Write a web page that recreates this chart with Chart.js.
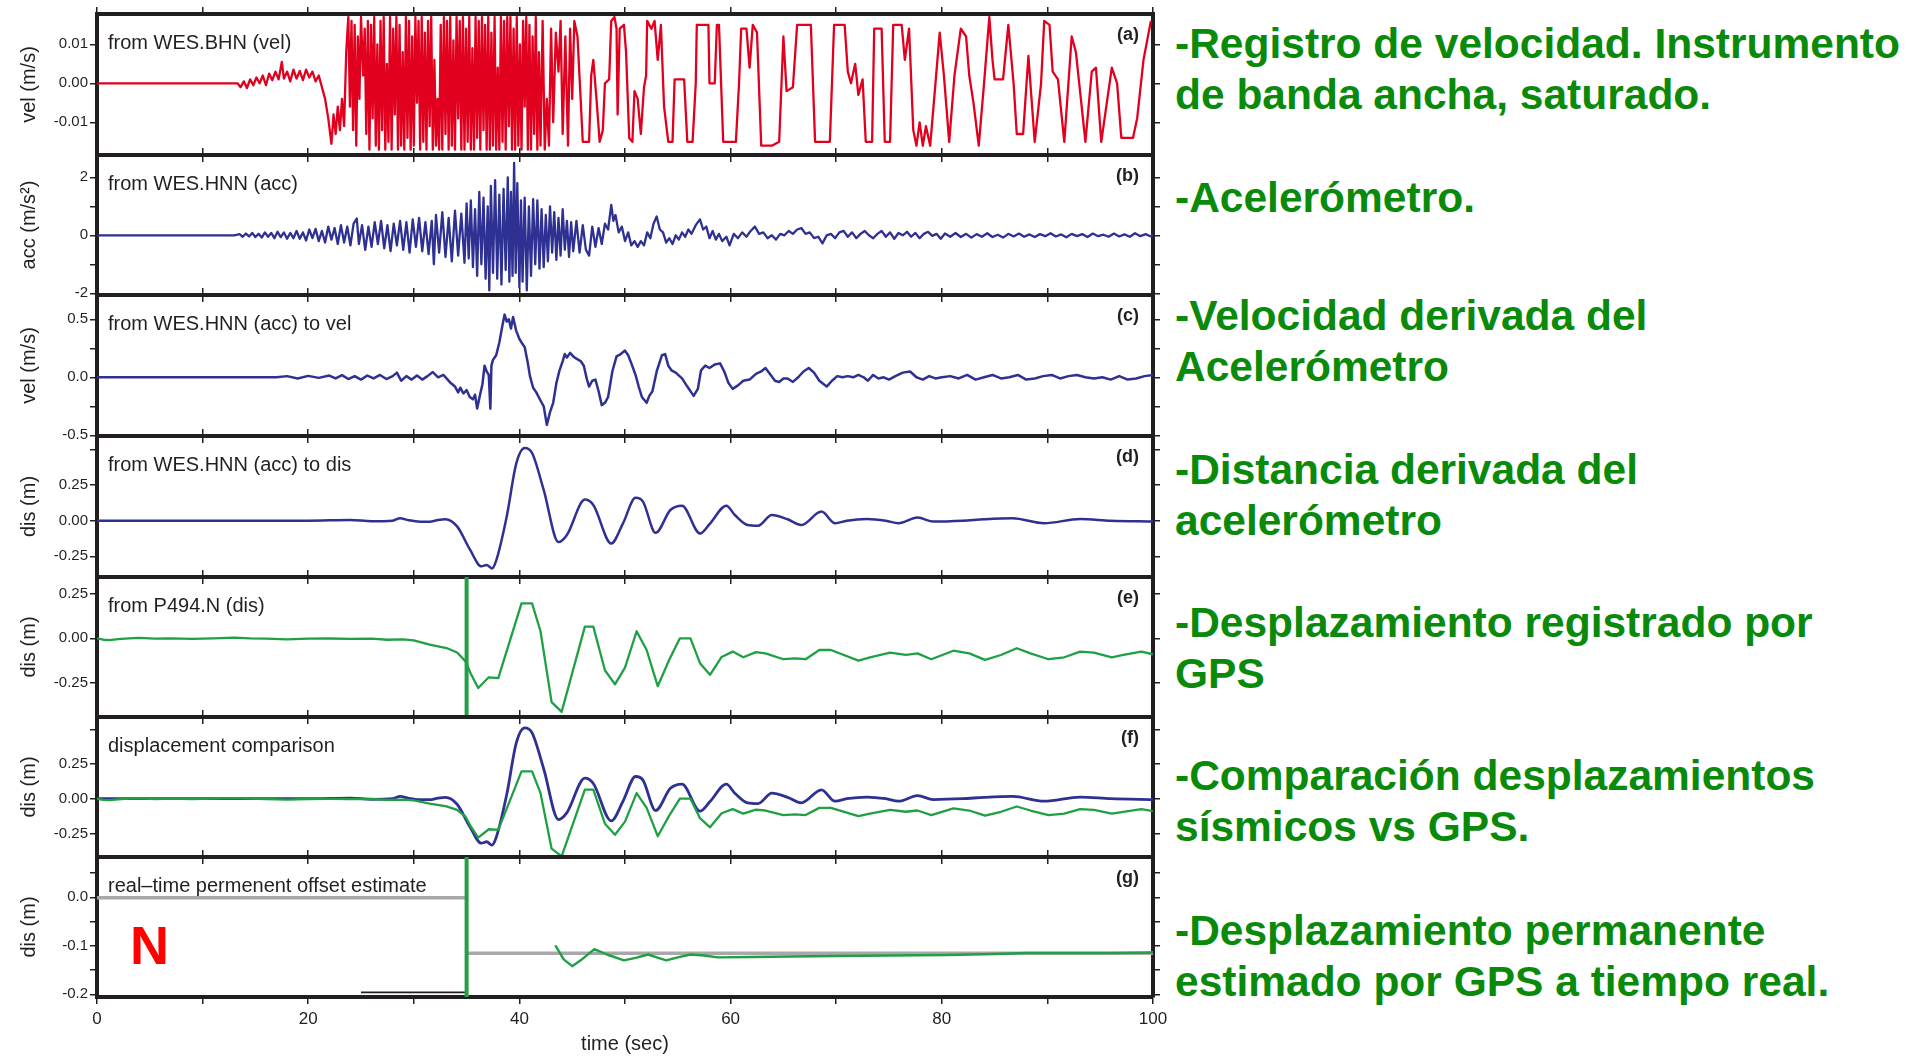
<!DOCTYPE html>
<html>
<head>
<meta charset="utf-8">
<title>Registro sísmico y GPS</title>
<script src="https://cdn.jsdelivr.net/npm/chart.js@4/dist/chart.umd.min.js"></script>
<style>
	body { margin: 0; background: #fff; width: 1913px; height: 1059px; overflow: hidden; position: relative; }
	canvas.panel { position: absolute; left: 0; }
	.note { position: absolute; left: 1175px; font: bold 42.5px/51px "Liberation Sans", Arial, sans-serif; color: #0a8a0a; white-space: nowrap; }
	#compN { position: absolute; left: 130px; top: 918px; font: bold 54px/54px "Liberation Sans", Arial, sans-serif; color: #ff0000; }
</style>
</head>
<body>
<div class="note" style="top:18px">-Registro de velocidad. Instrumento<br>de banda ancha, saturado.</div>
<div class="note" style="top:172px">-Acelerómetro.</div>
<div class="note" style="top:290px">-Velocidad derivada del<br>Acelerómetro</div>
<div class="note" style="top:444px">-Distancia derivada del<br>acelerómetro</div>
<div class="note" style="top:597px">-Desplazamiento registrado por<br>GPS</div>
<div class="note" style="top:750px">-Comparación desplazamientos<br>sísmicos vs GPS.</div>
<div class="note" style="top:905px">-Desplazamiento permanente<br>estimado por GPS a tiempo real.</div>
<div id="compN">N</div>
<script>
// time axis (seconds)
const timeTicks = [0, 10, 20, 30, 40, 50, 60, 70, 80, 90, 100];
const timeTickText = ['0', '', '20', '', '40', '', '60', '', '80', '', '100'];

// y ticks per panel, blank text = minor tick
const velBhnTicks = [-0.01, 0, 0.01];
const velBhnTickText = ['-0.01', '0.00', '0.01'];
const accTicks = [-2, -1, 0, 1, 2];
const accTickText = ['-2', '', '0', '', '2'];
const velHnnTicks = [-0.5, -0.25, 0, 0.25, 0.5];
const velHnnTickText = ['-0.5', '', '0.0', '', '0.5'];
const disTicks = [-0.25, 0, 0.25, 0.5];
const disTickText = ['-0.25', '0.00', '0.25', ''];
const offTicks = [-0.2, -0.15, -0.1, -0.05, 0, 0.05];
const offTickText = ['-0.2', '', '-0.1', '', '0.0', ''];

// (a) WES.BHN broadband velocity, clipped around +-0.017 m/s
const velBHN = [
	[0,0],[13.3,0],[13.6,-0.001],[13.9,0.0005],[14.2,-0.0012],[14.5,0.001],[14.8,-0.0005],[15.1,0.0015],[15.4,0],[15.7,0.002],
	[16,-0.0005],[16.3,0.0025],[16.6,0.0008],[16.9,0.003],[17.2,0.001],[17.5,0.0055],[17.7,0.0012],[18,0.003],[18.3,0.0005],[18.6,0.0035],
	[18.9,0.0012],[19.2,0.0032],[19.5,0.0008],[19.8,0.0035],[20.1,0.0015],[20.4,0.003],[20.7,0.0005],[21,0.002],[21.3,-0.001],[21.6,-0.004],
	[21.9,-0.009],[22.2,-0.0155],[22.4,-0.008],[22.6,-0.013],[22.8,-0.006],[23,-0.012],[23.2,-0.004],[23.4,-0.011],[23.6,0.008],
	[23.8,0.017],[23.95,-0.006],[24.1,0.016],[24.25,-0.012],[24.4,0.015],[24.55,-0.016],[24.7,0.012],[24.85,-0.004],[25,0.017],[25.2,0.002],
	[25.35,0.014],[25.5,-0.013],[25.65,0.016],[25.8,-0.017],[25.95,0.015],[26.1,-0.009],[26.25,0.017],[26.4,-0.016],[26.55,0.01],[26.7,-0.017],
	[26.85,0.016],[27,-0.012],[27.15,0.017],[27.3,-0.017],[27.45,0.005],[27.6,-0.015],[27.75,0.017],[27.9,-0.017],[28.05,0.014],[28.2,-0.008],
	[28.35,0.017],[28.5,-0.017],[28.65,0.015],[28.8,-0.016],[28.95,0.008],[29.1,-0.017],[29.25,0.017],[29.4,-0.014],[29.55,0.016],[29.7,-0.017],
	[29.85,0.012],[30,-0.016],[30.15,0.017],[30.3,-0.005],[30.45,0.016],[30.6,-0.017],[30.75,0.017],[30.9,-0.015],[31.05,0.013],[31.2,-0.017],
	[31.35,0.016],[31.5,-0.011],[31.65,0.017],[31.8,-0.017],[31.95,0.006],[32.1,-0.016],[32.25,-0.004],[32.4,-0.017],[32.55,0.015],[32.7,-0.017],
	[32.85,0.017],[33,-0.013],[33.15,0.016],[33.3,-0.017],[33.45,0.017],[33.6,-0.016],[33.75,0.011],[33.9,-0.017],[34.05,0.017],[34.2,-0.009],
	[34.35,0.016],[34.5,-0.017],[34.65,0.017],[34.8,-0.017],[34.95,0.014],[35.1,-0.015],[35.25,0.017],[35.4,-0.017],[35.55,0.009],[35.7,-0.017],
	[35.85,0.017],[36,-0.014],[36.15,0.016],[36.3,-0.017],[36.45,0.017],[36.6,-0.012],[36.75,0.015],[36.9,-0.017],[37.05,0.017],[37.2,-0.017],
	[37.35,0.013],[37.5,-0.016],[37.65,0.017],[37.8,-0.017],[37.95,0.004],[38.1,-0.017],[38.25,0.017],[38.4,-0.015],[38.55,0.016],[38.7,-0.017],
	[38.85,0.017],[39,-0.011],[39.15,0.017],[39.3,-0.017],[39.45,0.014],[39.6,-0.017],[39.75,0.017],[39.9,-0.016],[40.05,0.01],[40.2,-0.017],
	[40.35,0.016],[40.5,-0.006],[40.65,0.017],[40.8,-0.017],[40.95,0.015],[41.1,-0.017],[41.25,0.012],[41.4,-0.013],[41.55,0.017],[41.7,-0.017],
	[41.85,0.008],[42,-0.016],[42.2,0.016],[42.4,-0.017],[42.6,-0.004],[42.8,-0.016],[43,0.014],[43.2,-0.01],[43.45,0.013],[43.7,0.003],
	[43.9,0.016],[44.1,-0.013],[44.35,0.012],[44.6,-0.016],[44.8,0.014],[45,-0.004],[45.2,0.016],
	[45.5,0.012],[45.8,-0.004],[46,-0.015],[46.6,-0.015],[46.8,0.002],[47,0.006],[47.3,-0.004],[47.6,-0.015],[47.9,-0.012],[48.1,0],
	[48.5,0.001],[48.7,0.016],[49,0.017],[49.2,0.014],[49.3,-0.008],[49.5,0.014],[49.9,0.015],[50.1,0.008],[50.4,-0.014],[50.7,-0.015],
	[50.9,-0.002],[51.2,-0.004],[51.5,-0.013],[51.8,-0.001],[52,0.002],[52.1,0.016],[52.5,0.014],[52.8,0.016],[53.1,0.006],[53.4,0.015],
	[53.7,-0.006],[54.1,-0.015],[54.5,-0.015],[54.7,0.001],[55.6,0.001],[55.9,-0.015],[56.4,-0.015],[56.7,0],[56.8,0.015],[57.9,0.015],
	[58,0],[58.5,0],[58.7,0.015],[58.9,0.015],[59.3,-0.015],[60.5,-0.015],[60.8,0],[61,0.014],[61.5,0.014],[61.8,0.004],
	[62.1,0.015],[62.5,0.013],[62.9,-0.016],[63.9,-0.016],[64.6,-0.015],[65,0.012],[65.3,-0.002],[65.9,-0.001],[66.3,0.015],[67.6,0.015],
	[68,-0.015],[69.4,-0.015],[69.8,0.015],[70.8,0.015],[71.1,0.003],[71.4,0],[71.8,0.005],[72.1,-0.003],[72.5,0.001],[72.8,-0.015],
	[73.4,-0.015],[73.6,0.014],[74.3,0.014],[74.6,-0.015],[75.1,-0.015],[75.4,0.015],[76.2,0.015],[76.5,0.006],[76.9,0.014],[77.3,-0.012],
	[77.6,-0.016],[77.9,-0.01],[78.2,-0.016],[78.5,-0.011],[78.9,-0.016],[79.4,0],[79.8,0.013],[80.2,0.002],[80.7,-0.015],[81.2,0.002],
	[81.8,0.014],[82.3,0.012],[82.6,0.002],[83,-0.005],[83.5,-0.016],[84,0],[84.5,0.017],[84.8,0.006],[85,0.001],[85.8,0.001],
	[86.3,0.015],[86.8,0],[87.1,-0.013],[87.7,-0.013],[88.2,0.007],[88.8,-0.015],[89.4,0],[89.7,0.016],[90.2,0.015],[90.5,0.003],
	[91,0.001],[91.6,-0.015],[92.3,0.012],[92.7,0.008],[93.6,-0.015],[94.2,0.003],[94.6,0.004],[95.1,-0.015],[96.1,0.004],[96.6,0],
	[97,-0.014],[98.1,-0.014],[98.5,-0.009],[99.1,0.006],[99.8,0.016]
];

// (b) WES.HNN strong motion acceleration (m/s^2)
const accHNN = [
	[0,0],[13,0],[13.5,0.04],[13.8,-0.05],[14.1,0.06],[14.4,-0.04],[14.7,0.08],[15,-0.06],[15.3,0.05],[15.6,-0.08],
	[15.9,0.1],[16.2,-0.05],[16.5,0.08],[16.8,-0.1],[17.1,0.12],[17.4,-0.06],[17.7,0.1],[18,-0.12],[18.3,0.08],[18.6,-0.1],
	[18.9,0.15],[19.2,-0.12],[19.5,0.1],[19.8,-0.18],[20.1,0.2],[20.4,-0.1],[20.7,0.22],[21,-0.2],[21.3,0.15],[21.6,-0.25],
	[21.9,0.3],[22.2,-0.15],[22.5,0.25],[22.8,-0.3],[23.1,0.35],[23.4,-0.25],[23.7,0.3],[24,-0.35],[24.3,0.4],[24.6,0.58],
	[24.8,-0.3],[25.1,0.35],[25.4,-0.5],[25.7,0.3],[26,-0.4],[26.3,0.45],[26.6,-0.3],[26.9,0.5],[27.2,-0.45],[27.5,0.35],
	[27.8,-0.55],[28.1,0.4],[28.4,-0.35],[28.7,0.5],[29,-0.5],[29.3,0.45],[29.6,-0.6],[29.9,0.55],[30.2,-0.4],[30.5,0.6],
	[30.8,-0.55],[31.1,0.45],[31.4,-0.65],[31.7,0.5],[31.9,-1],[32.1,0.7],[32.4,-0.6],[32.7,0.8],[33,-0.75],[33.3,0.6],
	[33.6,-0.9],[33.9,0.85],[34.2,-0.7],[34.5,0.75],[34.8,-0.95],[35,1.1],[35.2,-0.8],[35.4,1.2],[35.6,-1.1],[35.8,0.9],
	[36,-1.4],[36.2,1.5],[36.4,-1],[36.6,1.3],[36.8,-1.5],[37,1],[37.15,-1.9],[37.3,1.7],[37.5,-1.3],[37.7,1.9],
	[37.9,-1.5],[38.1,1.4],[38.3,-1.7],[38.5,1.6],[38.7,-1.2],[38.9,2],[39.05,-1.6],[39.2,1.5],[39.35,-1.4],[39.5,2.5],
	[39.65,-1.3],[39.8,1.8],[40,-1.8],[40.15,1.2],[40.3,-1.6],[40.5,1.3],[40.7,-1.9],[40.9,1],[41.1,-1.4],[41.3,1.25],
	[41.5,-1],[41.7,1.2],[41.9,-1.15],[42.1,0.9],[42.3,-1.1],[42.5,0.7],[42.7,-0.9],[42.9,1],[43.1,-0.6],[43.3,0.8],
	[43.5,-0.85],[43.7,0.6],[43.9,-0.7],[44.1,0.9],[44.3,-0.5],[44.5,0.5],[44.7,-0.75],[44.9,0.45],[45.1,-0.55],[45.4,0.5],
	[45.7,-0.6],[46,0.35],[46.3,-0.5],[46.6,-0.7],[46.9,0.3],[47.2,-0.4],[47.5,0.25],[47.8,-0.3],[48.1,0.4],[48.4,0.2],
	[48.7,1.05],[48.9,0.5],[49.1,0.7],[49.4,0.1],[49.7,0.3],[50,-0.2],[50.3,0.1],[50.6,-0.35],[50.9,-0.2],[51.2,-0.4],
	[51.5,-0.2],[51.8,-0.35],[52.1,0.1],[52.4,-0.1],[52.7,0.4],[53,0.65],[53.3,0.2],[53.6,0.1],[53.9,-0.25],[54.2,-0.1],
	[54.5,-0.3],[54.8,0],[55.1,-0.15],[55.4,0.1],[55.7,-0.05],[56,0.2],[56.3,0.05],[56.7,0.35],[57.1,0.55],[57.4,0.2],
	[57.7,0.3],[58,-0.1],[58.3,0.15],[58.6,-0.15],[58.9,0.05],[59.2,-0.2],[59.6,-0.05],[59.9,-0.35],[60.3,0.05],[60.7,-0.1],
	[61.1,0.1],[61.5,-0.05],[61.9,0.15],[62.3,0.3],[62.7,0.05],[63.1,0.1],[63.5,-0.1],[63.9,0],[64.3,-0.15],[64.7,0.05],
	[65.1,0],[65.5,0.15],[65.9,0.05],[66.3,0.2],[66.7,0.25],[67.1,0.05],[67.5,0.1],[67.9,-0.1],[68.3,-0.05],[68.7,-0.28],
	[69.1,0],[69.5,0.05],[69.9,-0.1],[70.3,0.1],[70.7,0.15],[71.1,-0.05],[71.5,0.1],[71.9,-0.1],[72.3,0.05],[72.7,0.15],
	[73.1,0],[73.5,-0.1],[73.9,0.05],[74.3,0.15],[74.7,-0.05],[75.1,0.1],[75.5,-0.12],[75.9,0.08],[76.3,0],[76.7,0.12],
	[77.1,-0.05],[77.5,0.08],[77.9,-0.1],[78.3,0.05],[78.7,0.12],[79.1,-0.02],[79.5,0.05],[79.9,-0.12],[80.3,0.06],[80.8,-0.05],
	[81.3,0.08],[81.8,-0.06],[82.3,0.05],[82.8,-0.08],[83.3,0.04],[83.8,-0.05],[84.3,0.07],[84.8,-0.06],[85.3,0.02],[85.8,-0.08],
	[86.3,0.05],[86.8,-0.04],[87.3,0.06],[87.8,-0.05],[88.3,0.03],[88.8,-0.06],[89.3,0.04],[89.8,-0.03],[90.3,0.07],[90.8,-0.04],
	[91.3,0.03],[91.8,-0.07],[92.3,0.05],[92.8,-0.03],[93.3,0.04],[93.8,-0.06],[94.3,0.06],[94.8,-0.03],[95.3,0.02],[95.8,-0.05],
	[96.3,0.06],[96.8,-0.04],[97.3,0.03],[97.8,-0.05],[98.3,0.07],[98.8,-0.03],[99.3,0.04],[99.8,-0.04],[100,0.02]
];

// (c) velocity integrated from WES.HNN (m/s)
const velHNN = [
	[0,0],[17,0],[18,0.01],[19,-0.01],[20,0.012],[21,-0.005],[22,0.015],[22.6,-0.01],[23.2,0.018],[23.8,-0.015],
	[24.4,0.01],[25,-0.02],[25.6,0.015],[26.2,-0.01],[26.8,0.02],[27.4,-0.015],[28,0.01],[28.4,0.04],[28.8,-0.03],[29.3,0.01],
	[29.8,-0.02],[30.3,0.015],[30.8,-0.02],[31.3,0.01],[31.8,0.045],[32.3,0],[32.8,0.02],[33.1,-0.01],[33.5,-0.05],[33.9,-0.08],
	[34.2,-0.13],[34.4,-0.09],[34.7,-0.14],[35,-0.11],[35.3,-0.17],[35.6,-0.19],[35.8,-0.15],[36,-0.27],[36.3,-0.14],[36.5,-0.06],
	[36.7,0.1],[36.9,0.05],[37.1,0.02],[37.25,-0.27],[37.35,0.1],[37.5,0.15],[37.8,0.19],[38.1,0.3],[38.4,0.45],[38.6,0.54],
	[38.8,0.48],[39,0.5],[39.2,0.42],[39.4,0.52],[39.7,0.4],[40,0.33],[40.2,0.3],[40.5,0.26],[40.8,0.12],[41,0.01],
	[41.3,-0.09],[41.6,-0.13],[42,-0.2],[42.3,-0.25],[42.6,-0.41],[42.9,-0.3],[43.2,-0.22],[43.5,-0.05],[43.8,0.06],[44.1,0.14],
	[44.3,0.2],[44.5,0.17],[44.8,0.21],[45.1,0.18],[45.4,0.16],[45.8,0.14],[46.1,0.1],[46.4,-0.02],[46.6,-0.08],[46.9,-0.03],
	[47.2,-0.02],[47.5,-0.12],[47.8,-0.24],[48.1,-0.22],[48.4,-0.17],[48.8,0.05],[49.2,0.18],[49.6,0.2],[50,0.23],[50.3,0.19],
	[50.6,0.12],[51,0.02],[51.3,-0.08],[51.6,-0.17],[52.05,-0.22],[52.3,-0.16],[52.6,-0.12],[53,0.05],[53.5,0.19],[53.8,0.2],
	[54.1,0.1],[54.4,0.06],[54.8,0.04],[55.4,-0.01],[55.9,-0.08],[56.5,-0.16],[56.9,-0.1],[57.2,0.06],[57.6,0.1],[58,0.08],
	[58.5,0.11],[59,0.12],[59.4,0.05],[59.8,-0.05],[60.2,-0.1],[60.7,-0.07],[61.2,-0.03],[61.8,-0.02],[62.4,0.03],[62.9,0.05],
	[63.3,0.08],[63.8,0.02],[64.2,-0.03],[64.6,-0.04],[65,-0.01],[65.4,-0.01],[65.9,-0.04],[66.4,0],[66.9,0.05],[67.4,0.08],
	[67.9,0.04],[68.4,-0.03],[69.1,-0.08],[69.6,-0.03],[70.1,0.01],[70.6,0],[71.1,0.01],[71.6,0],[72.1,0.02],[72.6,0],
	[73,-0.03],[73.5,0.02],[74,-0.01],[74.5,0],[75,-0.02],[75.6,0.01],[76.3,0.04],[77,0.05],[77.6,0],[78.2,-0.02],
	[78.8,0.01],[79.4,-0.01],[80,0],[80.8,0.01],[81.6,-0.01],[82.4,0.02],[83.2,-0.02],[84,0],[84.8,0.02],[85.6,-0.01],
	[86.4,0],[87.2,0.02],[88,-0.02],[88.8,-0.01],[89.6,0.01],[90.4,0.02],[91.2,-0.01],[92,0.01],[92.8,0.02],[93.6,0],
	[94.4,-0.01],[95.2,0],[96,-0.02],[96.8,0.01],[97.6,-0.02],[98.4,-0.01],[99.2,0.01],[100,0.02]
];

// (d) displacement integrated from WES.HNN (m)
const disHNN = [
	[0,0],[10,0],[20,0],[24,0.005],[26,-0.004],[28,0],[28.7,0.017],[29.5,0.003],[30.6,-0.007],[31.5,-0.007],
	[32.3,0.005],[33,0.01],[34.1,-0.04],[35.3,-0.2],[36.4,-0.32],[36.9,-0.31],[37.4,-0.335],[37.8,-0.28],[38.8,0.03],[39.7,0.4],
	[40.5,0.51],[41.2,0.475],[42.3,0.216],[43.7,-0.15],[44.5,-0.1],[46.2,0.148],[47,0.11],[48.7,-0.16],[49.8,-0.02],[51,0.16],
	[51.7,0.134],[52.9,-0.085],[54.3,0.075],[55.4,0.105],[57.1,-0.09],[58.05,-0.02],[59.6,0.105],[60.4,0.04],[61.6,-0.03],[62.6,-0.035],
	[63.9,0.04],[65.4,0.01],[66.7,-0.03],[68.6,0.064],[69.9,-0.018],[71,0],[72.9,0.012],[74.7,0],[75.9,-0.018],[77.7,0.022],
	[79.2,-0.006],[82,0],[84,0.01],[86.7,0.017],[89.7,-0.018],[93.1,0.012],[96,0],[100,-0.006]
];

// (e) P494 GPS north displacement (m)
const disGPS = [
	[0,0],[0.6,-0.008],[1.2,-0.01],[2,-0.004],[3,0],[4,0.002],[5.5,-0.002],[7,0],[9,-0.003],[11,0],
	[13,0.004],[14.5,0],[16,-0.002],[18,-0.006],[20,-0.002],[22,-0.001],[24,-0.003],[26,-0.002],[27.5,-0.008],[29,-0.006],
	[30,-0.012],[31.5,-0.035],[33.1,-0.055],[34.1,-0.08],[34.9,-0.13],[35.4,-0.2],[36.1,-0.28],[37.1,-0.22],[38,-0.225],[40.2,0.197],
	[41.2,0.197],[42,0.04],[43.05,-0.36],[44,-0.415],[46.2,0.066],[47,0.066],[48.1,-0.18],[49.05,-0.26],[50,-0.165],[51.1,0.04],
	[52.05,-0.066],[53.1,-0.27],[54.2,-0.12],[55.2,0],[56.2,0],[57.1,-0.14],[58.05,-0.206],[59.15,-0.105],[60.2,-0.075],[61.2,-0.107],
	[62.4,-0.078],[63.3,-0.085],[65,-0.118],[66.1,-0.113],[67.1,-0.118],[68.4,-0.066],[69.5,-0.066],[72.1,-0.126],[73.2,-0.107],[75.1,-0.081],
	[76.6,-0.094],[77.7,-0.085],[79,-0.118],[81.1,-0.07],[82.6,-0.085],[84.1,-0.122],[85.6,-0.094],[87.1,-0.056],[88.4,-0.085],[90.1,-0.118],
	[91.6,-0.107],[93.1,-0.075],[94.4,-0.081],[96.1,-0.107],[97.2,-0.094],[98.9,-0.075],[100,-0.09]
];

// (g) real-time permanent offset estimate (m)
const offsetBefore = [[0, -0.001], [35, -0.001]];
const offsetAfter = [[35, -0.1155], [100, -0.1155]];
const offsetRef = [[25, -0.196], [35, -0.196]];
const offsetGPS = [
	[43.4,-0.099],[44.2,-0.128],[45,-0.142],[45.8,-0.13],[47.1,-0.107],[48.3,-0.118],[49.9,-0.13],[51,-0.125],[52.2,-0.118],[53,-0.124],
	[53.9,-0.13],[55,-0.124],[56.2,-0.118],[57.5,-0.12],[58.8,-0.124],[62,-0.123],[65.5,-0.122],[70,-0.121],[75,-0.12],[80.5,-0.119],
	[85,-0.117],[88,-0.115],[92,-0.115],[96,-0.115],[100,-0.114]
];

// GPS trigger time (s)
const gpsTrigger = 35;

const RED = '#e1001e';
const BLUE = '#2e3192';
const GREEN = '#1fa044';
const GRAY = '#a8a8a8';
const INK = '#231f20';

// top/bottom pixel edge of each stacked panel
const panelEdges = [14, 155, 295, 436, 577, 717, 857, 997];

const toXY = pairs => pairs.map(([x, y]) => ({ x: x, y: y }));

function trace(pairs, color, width, extra) {
	return Object.assign({
		data: toXY(pairs),
		borderColor: color,
		borderWidth: width,
		pointRadius: 0,
		fill: false,
		tension: 0,
		borderJoinStyle: 'round'
	}, extra || {});
}

function triggerLine(range) {
	return trace([[gpsTrigger, range[0]], [gpsTrigger, range[1]]], GREEN, 4);
}

const panels = [
	{ title: 'from WES.BHN (vel)', tag: '(a)', yTitle: 'vel (m/s)', range: [-0.01838, 0.01777],
		ticks: velBhnTicks, tickText: velBhnTickText,
		series: range => [trace(velBHN, RED, 2.3)] },
	{ title: 'from WES.HNN (acc)', tag: '(b)', yTitle: 'acc (m/s²)', range: [-2.06, 2.77],
		ticks: accTicks, tickText: accTickText,
		series: range => [trace(accHNN, BLUE, 2.3)] },
	{ title: 'from WES.HNN (acc) to vel', tag: '(c)', yTitle: 'vel (m/s)', range: [-0.506, 0.709],
		ticks: velHnnTicks, tickText: velHnnTickText,
		series: range => [trace(velHNN, BLUE, 2.5)] },
	{ title: 'from WES.HNN (acc) to dis', tag: '(d)', yTitle: 'dis (m)', range: [-0.395, 0.594],
		ticks: disTicks, tickText: disTickText,
		series: range => [trace(disHNN, BLUE, 2.5, { cubicInterpolationMode: 'monotone' })] },
	{ title: 'from P494.N (dis)', tag: '(e)', yTitle: 'dis (m)', range: [-0.444, 0.346],
		ticks: disTicks, tickText: disTickText,
		series: range => [trace(disGPS, GREEN, 2.3), triggerLine(range)] },
	{ title: 'displacement comparison', tag: '(f)', yTitle: 'dis (m)', range: [-0.42, 0.589],
		ticks: disTicks, tickText: disTickText,
		series: range => [
			trace(disGPS, GREEN, 2.3, { order: 0 }),
			trace(disHNN, BLUE, 2.8, { order: 1, cubicInterpolationMode: 'monotone' })
		] },
	{ title: 'real\u2013time permenent offset estimate', tag: '(g)', yTitle: 'dis (m)', range: [-0.2056, 0.083],
		ticks: offTicks, tickText: offTickText,
		series: range => [
			trace(offsetGPS, GREEN, 2.4, { order: 0 }),
			trace(offsetBefore, GRAY, 3.5, { order: 2 }),
			trace(offsetAfter, GRAY, 3.5, { order: 2 }),
			trace(offsetRef, INK, 1.8, { order: 1 }),
			Object.assign(triggerLine(range), { order: 0 })
		] }
];

// panel caption and letter drawn inside the frame
const panelText = {
	id: 'panelText',
	afterDatasetsDraw(chart, args, opts) {
		const { ctx, chartArea } = chart;
		ctx.save();
		ctx.fillStyle = INK;
		ctx.textBaseline = 'middle';
		ctx.textAlign = 'left';
		ctx.font = '20px "Liberation Sans", Arial, sans-serif';
		ctx.fillText(opts.title, chartArea.left + 11, chartArea.top + 29);
		ctx.textAlign = 'right';
		ctx.font = 'bold 18px "Liberation Sans", Arial, sans-serif';
		ctx.fillText(opts.tag, chartArea.right - 14, chartArea.top + 21);
		ctx.restore();
	}
};

Chart.defaults.font.family = '"Liberation Sans", Arial, sans-serif';
Chart.defaults.color = INK;

const frame = { display: true, color: INK, width: 4 };
const tickGrid = { display: true, drawOnChartArea: false, drawTicks: true, tickLength: 7, color: INK, lineWidth: 1.5 };
const PAD = 14;

panels.forEach((p, i) => {
	const last = i === panels.length - 1;
	const top = panelEdges[i];
	const bottom = panelEdges[i + 1];
	const bottomBox = last ? 62 : PAD;
	const canvas = document.createElement('canvas');
	canvas.className = 'panel';
	canvas.width = 1173;
	canvas.height = (bottom - top) + PAD + bottomBox;
	canvas.style.top = (top - PAD) + 'px';
	document.body.appendChild(canvas);

	const yVals = p.ticks.filter(v => v >= p.range[0] && v <= p.range[1]);
	const setTime = s => { s.ticks = timeTicks.map(v => ({ value: v })); };
	const setY = s => { s.ticks = yVals.map(v => ({ value: v })); };

	new Chart(canvas, {
		type: 'line',
		data: { datasets: p.series(p.range) },
		plugins: [panelText],
		options: {
			responsive: false,
			animation: false,
			events: [],
			layout: { padding: 0 },
			plugins: {
				legend: { display: false },
				tooltip: { enabled: false },
				panelText: { title: p.title, tag: p.tag }
			},
			scales: {
				x: {
					type: 'linear', position: 'bottom', min: 0, max: 100,
					afterBuildTicks: setTime,
					afterFit: s => { s.height = bottomBox; },
					grid: tickGrid, border: frame,
					ticks: {
						display: last, autoSkip: false, maxRotation: 0, padding: 5,
						font: { size: 17 },
						callback: v => timeTickText[timeTicks.indexOf(v)]
					},
					title: { display: last, text: 'time (sec)', font: { size: 20 }, padding: { top: 0, bottom: 3 } }
				},
				xTop: {
					type: 'linear', position: 'top', min: 0, max: 100,
					afterBuildTicks: setTime,
					afterFit: s => { s.height = PAD; },
					grid: tickGrid, border: frame,
					ticks: { display: false }
				},
				y: {
					type: 'linear', position: 'left', min: p.range[0], max: p.range[1],
					afterBuildTicks: setY,
					afterFit: s => { s.width = 97; },
					grid: tickGrid, border: frame,
					ticks: {
						autoSkip: false, padding: 2, font: { size: 15 },
						callback: v => p.tickText[p.ticks.indexOf(v)]
					},
					title: { display: true, text: p.yTitle, font: { size: 20 }, padding: { top: 17, bottom: 0 } }
				},
				yRight: {
					type: 'linear', position: 'right', min: p.range[0], max: p.range[1],
					afterBuildTicks: setY,
					afterFit: s => { s.width = 20; },
					grid: tickGrid, border: frame,
					ticks: { display: false }
				}
			}
		}
	});
});
</script>
</body>
</html>
